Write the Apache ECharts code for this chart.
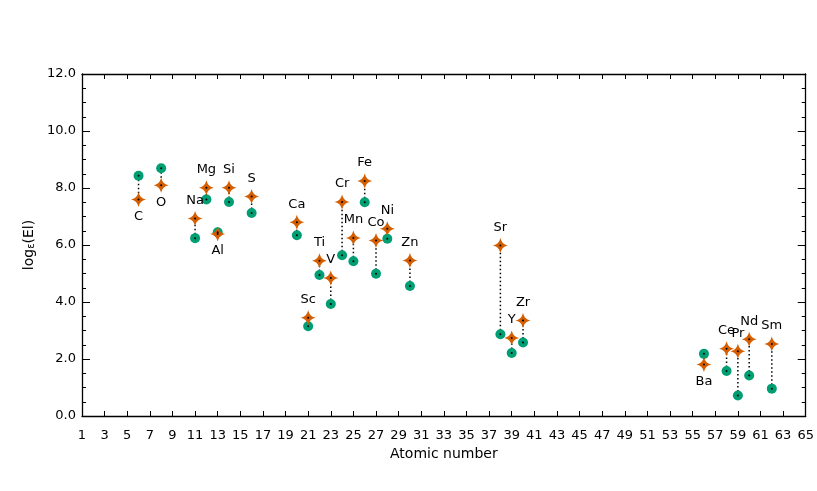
<!DOCTYPE html>
<html><head><meta charset="utf-8">
<script src="https://cdn.jsdelivr.net/npm/echarts@6/dist/echarts.min.js"></script>
<style>html,body{margin:0;padding:0;background:#fff}#c{width:817px;height:491px}</style>
</head><body><div id="c"></div>
<script>
var elements = ['C','O','Na','Mg','Al','Si','S','Ca','Sc','Ti','V','Cr','Mn','Fe','Co','Ni','Zn','Sr','Y','Zr','Ba','Ce','Pr','Nd','Sm'];
var atomicNumber = [6,8,11,12,13,14,16,20,21,22,23,24,25,26,27,28,30,38,39,40,56,58,59,60,62];
var solarAbund = [8.43,8.69,6.24,7.60,6.45,7.51,7.12,6.34,3.15,4.95,3.93,5.64,5.43,7.50,4.99,6.22,4.56,2.87,2.21,2.58,2.18,1.58,0.72,1.42,0.96];
var starAbund = [7.60,8.10,6.93,8.01,6.39,8.01,7.70,6.80,3.45,5.45,4.84,7.51,6.25,8.25,6.16,6.57,5.46,5.98,2.74,3.35,1.81,2.36,2.27,2.69,2.53];
var xTicks = {min:1, max:65, interval:2};
var yTicks = {min:0, max:12, interval:2};
var labelsBelow = ['C','O','Al','Ba'];

var FONT = 'DejaVu Sans';
var ORANGE = '#D55E00', GREEN = '#009E73';
var starPath = 'path://M0,-10 C1.8,-3.8 3.8,-1.8 10,0 C3.8,1.8 1.8,3.8 0,10 C-1.8,3.8 -3.8,1.8 -10,0 C-3.8,-1.8 -1.8,-3.8 0,-10 Z';

var solarData = atomicNumber.map(function(z,i){return [z, solarAbund[i]];});
var starData = atomicNumber.map(function(z,i){
  var below = labelsBelow.indexOf(elements[i]) >= 0;
  return {value:[z, starAbund[i]], name: elements[i],
    label:{position: below ? 'bottom' : 'top', distance: below ? 3 : 4}};
});
var pairData = atomicNumber.map(function(z,i){return [z, solarAbund[i], starAbund[i]];});
var dotData = solarData.concat(atomicNumber.map(function(z,i){return [z, starAbund[i]];}));

var chart = echarts.init(document.getElementById('c'), null, {renderer:'canvas'});
var axisCommon = {
  axisLine:{show:true, onZero:false, lineStyle:{color:'#000', width:1.3}},
  splitLine:{show:false}
};
chart.setOption({
  animation:false,
  backgroundColor:'#fff',
  textStyle:{fontFamily:FONT},
  grid:{left:82, right:7, top:74, bottom:75},
  xAxis:[
    Object.assign({type:'value', min:xTicks.min, max:xTicks.max, interval:xTicks.interval,
      position:'bottom',
      axisTick:{show:true, inside:true, length:5, lineStyle:{color:'#000'}},
      axisLabel:{color:'#000', fontSize:13, fontFamily:FONT, margin:13},
      name:'Atomic number', nameLocation:'middle', nameGap:31,
      nameTextStyle:{color:'#000', fontSize:14, fontFamily:FONT}}, axisCommon),
    Object.assign({type:'value', min:xTicks.min, max:xTicks.max, interval:xTicks.interval,
      position:'top',
      axisTick:{show:true, inside:true, length:5, lineStyle:{color:'#000'}},
      axisLabel:{show:false}}, axisCommon)
  ],
  yAxis:[
    Object.assign({type:'value', min:yTicks.min, max:yTicks.max, interval:yTicks.interval,
      position:'left',
      axisTick:{show:true, inside:true, length:8, lineStyle:{color:'#000'}},
      minorTick:{show:true, splitNumber:4, length:4, lineStyle:{color:'#000'}},
      axisLabel:{color:'#000', fontSize:13, fontFamily:FONT, margin:6,
        formatter:function(v){return v.toFixed(1);}},
      name:'{a|log}{b|ε}{a|(El)}', nameLocation:'middle', nameGap:42, nameRotate:90,
      nameTextStyle:{color:'#000', fontSize:14, fontFamily:FONT,
        rich:{a:{fontSize:14, fontFamily:FONT, color:'#000'},
              b:{fontSize:10, fontFamily:FONT, color:'#000', padding:[4,0,0,0]}}}}, axisCommon),
    Object.assign({type:'value', min:yTicks.min, max:yTicks.max, interval:yTicks.interval,
      position:'right',
      axisTick:{show:true, inside:true, length:8, lineStyle:{color:'#000'}},
      minorTick:{show:true, splitNumber:4, length:4, lineStyle:{color:'#000'}},
      axisLabel:{show:false}}, axisCommon)
  ],
  series:[
    {type:'custom', xAxisIndex:0, yAxisIndex:0, z:1, data:pairData,
      renderItem:function(params, api){
        var a = api.coord([api.value(0), api.value(1)]);
        var b = api.coord([api.value(0), api.value(2)]);
        return {type:'line', shape:{x1:a[0], y1:a[1], x2:b[0], y2:b[1]},
          style:{stroke:'#000', lineWidth:1.5, lineDash:[1.5,2.5]}};
      }},
    {type:'scatter', z:2, data:solarData, symbol:'circle', symbolSize:10,
      itemStyle:{color:GREEN, opacity:1, borderWidth:0, borderColor:GREEN}},
    {type:'scatter', z:3, data:starData, symbol:starPath, symbolSize:15,
      itemStyle:{color:ORANGE, opacity:1, borderWidth:0, borderColor:ORANGE},
      label:{show:true, formatter:'{b}', color:'#000', fontSize:13, fontFamily:FONT}},
    {type:'scatter', z:4, data:dotData, symbol:'circle', symbolSize:2,
      itemStyle:{color:'#000', opacity:1}, silent:true}
  ]
});
</script></body></html>
